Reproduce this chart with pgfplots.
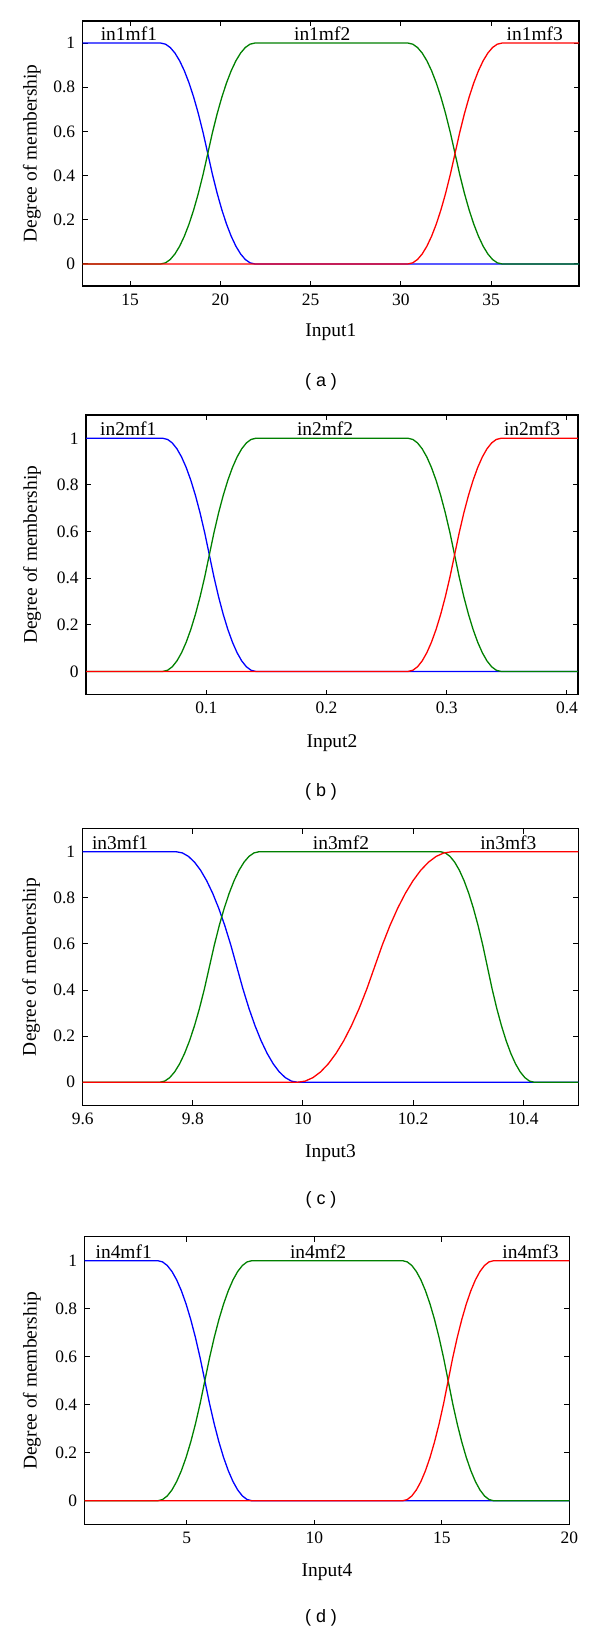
\documentclass[border=0pt]{standalone}
\usepackage{fontspec}
\setmainfont{Liberation Serif}
\newfontfamily\capfont{Liberation Sans}
\usepackage{pgfplots}
\pgfplotsset{compat=1.18}
\definecolor{mfblue}{RGB}{0,0,255}
\definecolor{mfgreen}{RGB}{0,128,0}
\definecolor{mfred}{RGB}{255,0,0}
\pgfplotsset{
  mfaxis/.style={
    scale only axis, anchor=south west,
    ymin=-0.1, ymax=1.1,
    ytick={0,0.2,0.4,0.6,0.8,1},
    tick align=inside, major tick length=5bp,
    axis line style={line width=1.5bp},
    every tick/.style={black, line width=1bp},
    tick label style={font=\fontsize{17.5}{20}\selectfont},
    xticklabel style={yshift=-4bp},
    yticklabel style={xshift=-4bp},
    label style={font=\fontsize{19.5}{22}\selectfont},
    ylabel={Degree of membership},
    clip=false,
    /pgf/number format/assume math mode=true,
    every axis plot/.append style={line width=1.3bp},
  },
}
\tikzset{mflbl/.style={font=\fontsize{19.5}{22}\selectfont, anchor=base},
  subcap/.style={font=\capfont\fontsize{18}{20}\selectfont}}
\begin{document}
\begin{tikzpicture}
\path[use as bounding box] (0,0) rectangle (600bp,-1636bp);

% ---------------- (a) ----------------
\begin{axis}[mfaxis, at={(82.7bp,-286bp)}, width=496.3bp, height=265bp,
  xmin=12.37, xmax=39.87, xtick={15,20,25,30,35},
  xlabel={Input1},
  xlabel style={at={(axis description cs:0.5,-0.1725)},anchor=center},
  ylabel style={at={(axis description cs:-0.1026,0.5)},anchor=center}]
\addplot[mfblue] coordinates {(12.37,1) (16.70,1) (16.96,0.995) (17.22,0.98) (17.48,0.955) (17.74,0.92) (18.00,0.875) (18.26,0.82) (18.52,0.755) (18.78,0.68) (19.04,0.595) (19.30,0.5) (19.56,0.405) (19.82,0.32) (20.08,0.245) (20.34,0.18) (20.60,0.125) (20.86,0.08) (21.12,0.045) (21.38,0.02) (21.64,0.005) (21.90,0) (39.87,0)};
\addplot[mfgreen] coordinates {(12.37,0) (16.70,0) (16.96,0.005) (17.22,0.02) (17.48,0.045) (17.74,0.08) (18.00,0.125) (18.26,0.18) (18.52,0.245) (18.78,0.32) (19.04,0.405) (19.30,0.5) (19.56,0.595) (19.82,0.68) (20.08,0.755) (20.34,0.82) (20.60,0.875) (20.86,0.92) (21.12,0.955) (21.38,0.98) (21.64,0.995) (21.90,1) (30.40,1) (30.66,0.995) (30.92,0.98) (31.18,0.955) (31.44,0.92) (31.70,0.875) (31.96,0.82) (32.22,0.755) (32.48,0.68) (32.74,0.595) (33.00,0.5) (33.26,0.405) (33.52,0.32) (33.78,0.245) (34.04,0.18) (34.30,0.125) (34.56,0.08) (34.82,0.045) (35.08,0.02) (35.34,0.005) (35.60,0) (39.87,0)};
\addplot[mfred] coordinates {(12.37,0) (30.40,0) (30.66,0.005) (30.92,0.02) (31.18,0.045) (31.44,0.08) (31.70,0.125) (31.96,0.18) (32.22,0.245) (32.48,0.32) (32.74,0.405) (33.00,0.5) (33.26,0.595) (33.52,0.68) (33.78,0.755) (34.04,0.82) (34.30,0.875) (34.56,0.92) (34.82,0.955) (35.08,0.98) (35.34,0.995) (35.60,1) (39.87,1)};
\node[mflbl] at (axis cs:14.93,1.011) {in1mf1};
\node[mflbl] at (axis cs:25.64,1.011) {in1mf2};
\node[mflbl] at (axis cs:37.42,1.011) {in1mf3};
\end{axis}
\node[subcap] at (321bp,-381.8bp) {( a )};

% ---------------- (b) ----------------
\begin{axis}[mfaxis, at={(86.1bp,-694.7bp)}, width=491.7bp, height=279.7bp,
  xmin=0, xmax=0.409, xtick={0.1,0.2,0.3,0.4},
  xlabel={Input2},
  xlabel style={at={(axis description cs:0.5,-0.174)},anchor=center},
  ylabel style={at={(axis description cs:-0.110,0.5)},anchor=center}]
\addplot[mfblue] coordinates {(0,1) (0.064,1) (0.06785,0.995) (0.0717,0.98) (0.07555,0.955) (0.0794,0.92) (0.08325,0.875) (0.0871,0.82) (0.09095,0.755) (0.0948,0.68) (0.09865,0.595) (0.1025,0.5) (0.10635,0.405) (0.1102,0.32) (0.11405,0.245) (0.1179,0.18) (0.12175,0.125) (0.1256,0.08) (0.12945,0.045) (0.1333,0.02) (0.13715,0.005) (0.141,0) (0.409,0)};
\addplot[mfgreen] coordinates {(0,0) (0.064,0) (0.06785,0.005) (0.0717,0.02) (0.07555,0.045) (0.0794,0.08) (0.08325,0.125) (0.0871,0.18) (0.09095,0.245) (0.0948,0.32) (0.09865,0.405) (0.1025,0.5) (0.10635,0.595) (0.1102,0.68) (0.11405,0.755) (0.1179,0.82) (0.12175,0.875) (0.1256,0.92) (0.12945,0.955) (0.1333,0.98) (0.13715,0.995) (0.141,1) (0.268,1) (0.27185,0.995) (0.2757,0.98) (0.27955,0.955) (0.2834,0.92) (0.28725,0.875) (0.2911,0.82) (0.29495,0.755) (0.2988,0.68) (0.30265,0.595) (0.3065,0.5) (0.31035,0.405) (0.3142,0.32) (0.31805,0.245) (0.3219,0.18) (0.32575,0.125) (0.3296,0.08) (0.33345,0.045) (0.3373,0.02) (0.34115,0.005) (0.345,0) (0.409,0)};
\addplot[mfred] coordinates {(0,0) (0.268,0) (0.27185,0.005) (0.2757,0.02) (0.27955,0.045) (0.2834,0.08) (0.28725,0.125) (0.2911,0.18) (0.29495,0.245) (0.2988,0.32) (0.30265,0.405) (0.3065,0.5) (0.31035,0.595) (0.3142,0.68) (0.31805,0.755) (0.3219,0.82) (0.32575,0.875) (0.3296,0.92) (0.33345,0.955) (0.3373,0.98) (0.34115,0.995) (0.345,1) (0.409,1)};
\node[mflbl] at (axis cs:0.0351,1.011) {in2mf1};
\node[mflbl] at (axis cs:0.1988,1.011) {in2mf2};
\node[mflbl] at (axis cs:0.371,1.011) {in2mf3};
\end{axis}
\node[subcap] at (321bp,-791.7bp) {( b )};

% ---------------- (c) ----------------
\begin{axis}[mfaxis, at={(82.7bp,-1105.3bp)}, width=495.6bp, height=276.6bp,
  xmin=9.6, xmax=10.5, xtick={9.6,9.8,10,10.2,10.4},
  xlabel={Input3},
  xlabel style={at={(axis description cs:0.5,-0.174)},anchor=center},
  ylabel style={at={(axis description cs:-0.104,0.5)},anchor=center}]
\addplot[mfblue] coordinates {(9.6,1) (9.770,1) (9.781,0.995) (9.792,0.98) (9.803,0.955) (9.814,0.92) (9.825,0.875) (9.836,0.82) (9.847,0.755) (9.858,0.68) (9.869,0.595) (9.880,0.5) (9.891,0.405) (9.902,0.32) (9.913,0.245) (9.924,0.18) (9.935,0.125) (9.946,0.08) (9.957,0.045) (9.968,0.02) (9.979,0.005) (9.990,0) (10.5,0)};
\addplot[mfgreen] coordinates {(9.6,0) (9.740,0) (9.749,0.005) (9.758,0.02) (9.767,0.045) (9.776,0.08) (9.785,0.125) (9.794,0.18) (9.803,0.245) (9.812,0.32) (9.821,0.405) (9.830,0.5) (9.839,0.595) (9.848,0.68) (9.857,0.755) (9.866,0.82) (9.875,0.875) (9.884,0.92) (9.893,0.955) (9.902,0.98) (9.911,0.995) (9.920,1) (10.2500,1) (10.2585,0.995) (10.2670,0.98) (10.2755,0.955) (10.2840,0.92) (10.2925,0.875) (10.3010,0.82) (10.3095,0.755) (10.3180,0.68) (10.3265,0.595) (10.3350,0.5) (10.3435,0.405) (10.3520,0.32) (10.3605,0.245) (10.3690,0.18) (10.3775,0.125) (10.3860,0.08) (10.3945,0.045) (10.4030,0.02) (10.4115,0.005) (10.4200,0) (10.5,0)};
\addplot[mfred] coordinates {(9.6,0) (9.990,0) (10.004,0.005) (10.018,0.02) (10.032,0.045) (10.046,0.08) (10.060,0.125) (10.074,0.18) (10.088,0.245) (10.102,0.32) (10.116,0.405) (10.130,0.5) (10.144,0.595) (10.158,0.68) (10.172,0.755) (10.186,0.82) (10.200,0.875) (10.214,0.92) (10.228,0.955) (10.242,0.98) (10.256,0.995) (10.270,1) (10.5,1)};
\node[mflbl] at (axis cs:9.668,1.011) {in3mf1};
\node[mflbl] at (axis cs:10.069,1.011) {in3mf2};
\node[mflbl] at (axis cs:10.373,1.011) {in3mf3};
\end{axis}
\node[subcap] at (321bp,-1200bp) {( c )};

% ---------------- (d) ----------------
\begin{axis}[mfaxis, at={(84.7bp,-1524.7bp)}, width=484.6bp, height=288bp,
  xmin=1, xmax=20, xtick={5,10,15,20},
  xlabel={Input4},
  xlabel style={at={(axis description cs:0.5,-0.164)},anchor=center},
  ylabel style={at={(axis description cs:-0.109,0.5)},anchor=center}]
\addplot[mfblue] coordinates {(1,1) (3.870,1) (4.054,0.995) (4.238,0.98) (4.422,0.955) (4.606,0.92) (4.790,0.875) (4.974,0.82) (5.158,0.755) (5.342,0.68) (5.526,0.595) (5.710,0.5) (5.894,0.405) (6.078,0.32) (6.262,0.245) (6.446,0.18) (6.630,0.125) (6.814,0.08) (6.998,0.045) (7.182,0.02) (7.366,0.005) (7.550,0) (20,0)};
\addplot[mfgreen] coordinates {(1,0) (3.870,0) (4.054,0.005) (4.238,0.02) (4.422,0.045) (4.606,0.08) (4.790,0.125) (4.974,0.18) (5.158,0.245) (5.342,0.32) (5.526,0.405) (5.710,0.5) (5.894,0.595) (6.078,0.68) (6.262,0.755) (6.446,0.82) (6.630,0.875) (6.814,0.92) (6.998,0.955) (7.182,0.98) (7.366,0.995) (7.550,1) (13.470,1) (13.648,0.995) (13.826,0.98) (14.004,0.955) (14.182,0.92) (14.360,0.875) (14.538,0.82) (14.716,0.755) (14.894,0.68) (15.072,0.595) (15.250,0.5) (15.428,0.405) (15.606,0.32) (15.784,0.245) (15.962,0.18) (16.140,0.125) (16.318,0.08) (16.496,0.045) (16.674,0.02) (16.852,0.005) (17.030,0) (20,0)};
\addplot[mfred] coordinates {(1,0) (13.470,0) (13.648,0.005) (13.826,0.02) (14.004,0.045) (14.182,0.08) (14.360,0.125) (14.538,0.18) (14.716,0.245) (14.894,0.32) (15.072,0.405) (15.250,0.5) (15.428,0.595) (15.606,0.68) (15.784,0.755) (15.962,0.82) (16.140,0.875) (16.318,0.92) (16.496,0.955) (16.674,0.98) (16.852,0.995) (17.030,1) (20,1)};
\node[mflbl] at (axis cs:2.53,1.011) {in4mf1};
\node[mflbl] at (axis cs:10.15,1.011) {in4mf2};
\node[mflbl] at (axis cs:18.48,1.011) {in4mf3};
\end{axis}
\node[subcap] at (321bp,-1618.3bp) {( d )};
\end{tikzpicture}
\end{document}
